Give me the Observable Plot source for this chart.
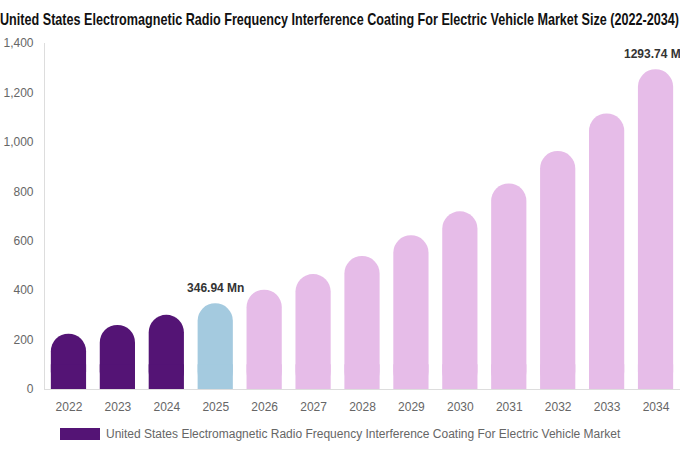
<!DOCTYPE html>
<html>
<head>
<meta charset="utf-8">
<script src="https://cdn.jsdelivr.net/npm/d3@7"></script>
<script src="https://cdn.jsdelivr.net/npm/@observablehq/plot@0.6"></script>
<style>
  body { margin: 0; background: #fff; width: 680px; overflow: hidden; font-family: "Liberation Sans", Arial, sans-serif; }
  #title { position: relative; height: 32px; width: 680px; }
  #title span { position: absolute; left: 0; top: 10px; white-space: nowrap; transform-origin: 0 50%; font-family: "Liberation Sans", Arial, sans-serif; font-weight: bold; font-size: 17px; line-height: 20px; color: #111; }
  #legend { display: flex; align-items: center; margin-left: 60px; margin-top: 8px; font-size: 12px; color: #666; }
  #legend .sw { width: 40px; height: 12px; background: #541475; margin-right: 6px; }
</style>
</head>
<body>
<div id="title"><span id="tt">United States Electromagnetic Radio Frequency Interference Coating For Electric Vehicle Market Size (2022-2034)</span></div>
<div id="chart"></div>
<div id="legend"><div class="sw"></div><span>United States Electromagnetic Radio Frequency Interference Coating For Electric Vehicle Market</span></div>
<script>
const years = ["2022","2023","2024","2025","2026","2027","2028","2029","2030","2031","2032","2033","2034"];
const values = [224, 259, 300, 346.94, 402, 465, 538, 622, 719, 832, 963, 1115, 1293.74];
const phases = ["hist","hist","hist","base","fcst","fcst","fcst","fcst","fcst","fcst","fcst","fcst","fcst"];
const labelYears = ["2025", "2034"];
const yTicks = [0, 200, 400, 600, 800, 1000, 1200, 1400];

const data = years.map((y, i) => ({year: y, value: values[i], phase: phases[i]}));
const labels = data.filter(d => labelYears.includes(d.year));
const colorScale = {domain: ["hist","base","fcst"], range: ["#541475","#a4cadf","#e6bce8"]};

// condense title to fit width
const tt = document.getElementById("tt");
const w = tt.getBoundingClientRect().width;
const s = Math.min(1, 679 / w);
tt.style.transform = `scaleX(${s})`;

const inset = 6.85;
const plot = Plot.plot({
  width: 680,
  height: 387,
  marginTop: 11,
  marginBottom: 30,
  marginLeft: 44,
  marginRight: 0,
  style: {fontFamily: "Liberation Sans, Arial, sans-serif", fontSize: "12px", color: "#666", background: "#fff"},
  x: {domain: years, padding: 0, round: false, label: null, tickSize: 0, tickPadding: 13},
  y: {domain: [0, 1400], ticks: yTicks, tickFormat: d3.format(","), label: null, tickSize: 0, tickPadding: 11},
  color: colorScale,
  marks: [
    Plot.barY(data, {x: "year", y: "value", fill: "phase", rx: 17.5, ry: 17.5, insetLeft: inset, insetRight: inset}),
    Plot.barY(data, {x: "year", y1: 0, y2: d => Math.min(d.value, 100), fill: "phase", insetLeft: inset, insetRight: inset}),
    Plot.ruleY([0], {stroke: "#ddd"}),
    Plot.frame({anchor: "left", stroke: "#ddd"}),
    Plot.text(labels, {x: "year", y: "value", text: d => d3.format(".2f")(d.value) + " Mn", dy: -16, fontWeight: "bold", fill: "#333", fontSize: 12})
  ]
});
document.getElementById("chart").appendChild(plot);
</script>
</body>
</html>
